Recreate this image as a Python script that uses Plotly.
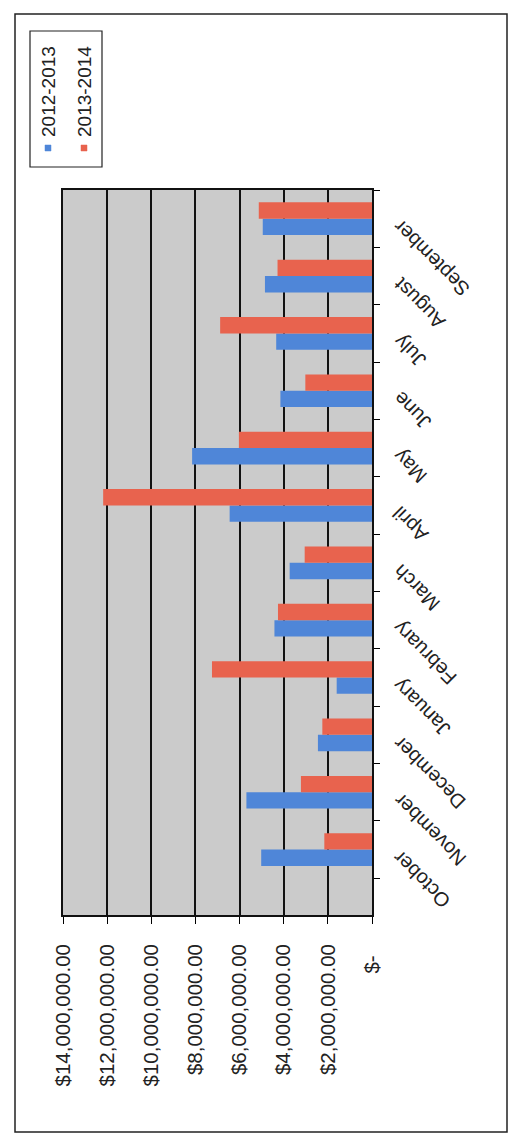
import plotly.graph_objects as go

# ---- data ----
months = ["October", "November", "December", "January", "February", "March",
          "April", "May", "June", "July", "August", "September"]
fy_2012_2013 = [5020000, 5690000, 2450000, 1600000, 4420000, 3730000,
                6450000, 8150000, 4150000, 4340000, 4850000, 4950000]
fy_2013_2014 = [2160000, 3220000, 2250000, 7250000, 4260000, 3050000,
                12180000, 6030000, 3020000, 6880000, 4280000, 5130000]
series_names = ["2012-2013", "2013-2014"]
tick_values = [0, 2000000, 4000000, 6000000, 8000000, 10000000, 12000000, 14000000]
tick_labels = ["$-\u00a0\u00a0", "$2,000,000.00", "$4,000,000.00", "$6,000,000.00",
               "$8,000,000.00", "$10,000,000.00", "$12,000,000.00", "$14,000,000.00"]

BLUE = "#4f86d8"
RED = "#e8634e"
FONT = "Liberation Sans, Arial, sans-serif"

OFF = 8                      # page body margin
W, H = 524 - 2 * OFF, 1142 - 2 * OFF
L, R, T, B = 63 - OFF, 372 - OFF, 190 - OFF, 915 - OFF  # plot area (figure px)


def px(x):
    x -= OFF
    return (x - L) / (R - L)


def py(y):
    y -= OFF
    return (B - y) / (B - T)


fig = go.Figure()
fig.add_trace(go.Bar(y=months, x=fy_2012_2013, name=series_names[0], orientation="h",
                     marker=dict(color=BLUE, line=dict(width=0))))
fig.add_trace(go.Bar(y=months, x=fy_2013_2014, name=series_names[1], orientation="h",
                     marker=dict(color=RED, line=dict(width=0))))

fig.update_layout(
    width=W, height=H,
    margin=dict(l=L, r=W - R, t=T, b=H - B, pad=0),
    paper_bgcolor="white",
    plot_bgcolor="#cbcbcb",
    barmode="group",
    bargap=0.43,
    bargroupgap=0,
    showlegend=False,
    font=dict(family=FONT, size=20, color="#222222"),
    xaxis=dict(
        range=[14000000, 0],
        tickvals=tick_values, ticktext=tick_labels,
        tickangle=-90,
        ticks="outside", ticklen=7, tickcolor="black",
        ticklabelstandoff=12,
        showgrid=True, gridcolor="#111111", gridwidth=1.5,
        showline=True, linecolor="#111111", linewidth=1.6, mirror=True,
        zeroline=False,
        tickfont=dict(family=FONT, size=20.5, color="#222222"),
    ),
    yaxis=dict(
        categoryorder="array", categoryarray=months,
        side="right",
        showticklabels=False,
        ticks="outside", ticklen=6, tickcolor="black",
        tickson="boundaries",
        showgrid=False,
        showline=True, linecolor="#111111", linewidth=1.6, mirror=True,
        zeroline=False,
    ),
)

# category labels, rotated like the scanned (turned) page
for m in months:
    fig.add_annotation(
        x=px(386), xref="paper", y=m, yref="y",
        text=m, showarrow=False, textangle=-135,
        xanchor="left", yanchor="top", yshift=6,
        font=dict(family=FONT, size=20, color="#222222"),
    )

# outer frame
fig.add_shape(type="rect", xref="paper", yref="paper",
              x0=px(15), x1=px(507), y0=py(1132), y1=py(14),
              line=dict(color="#222222", width=1.5), fillcolor="rgba(0,0,0,0)", layer="below")

# legend box (rotated)
fig.add_shape(type="rect", xref="paper", yref="paper",
              x0=px(30), x1=px(102), y0=py(167), y1=py(31),
              line=dict(color="#222222", width=1.2), fillcolor="white")
legend_x = [48, 84]
legend_colors = [BLUE, RED]
for name, lx, col in zip(series_names, legend_x, legend_colors):
    fig.add_annotation(x=px(lx), y=py(92), xref="paper", yref="paper",
                       text=name, showarrow=False, textangle=-90,
                       xanchor="center", yanchor="middle",
                       font=dict(family=FONT, size=19, color="#222222"))
    fig.add_shape(type="rect", xref="paper", yref="paper",
                  x0=px(lx - 3), x1=px(lx + 3), y0=py(151), y1=py(145),
                  line=dict(color=col, width=0.5), fillcolor=col)

fig.write_html("out.html")
